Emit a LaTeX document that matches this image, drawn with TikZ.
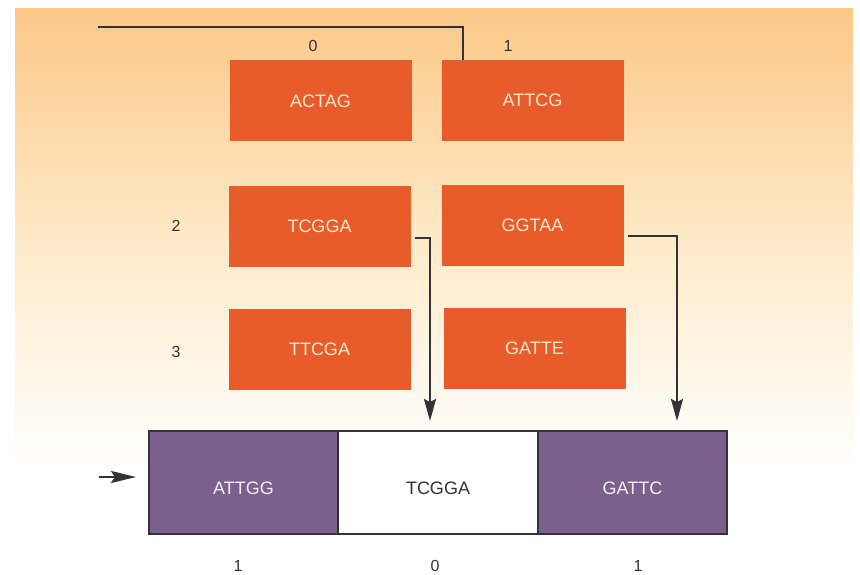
\documentclass[tikz,border=0pt]{standalone}
\usepackage{fontspec}
\setmainfont{Liberation Sans}
\usetikzlibrary{arrows.meta}
\definecolor{boxorange}{RGB}{232,92,44}
\definecolor{boxpurple}{RGB}{123,95,140}
\definecolor{cream}{RGB}{253,232,205}
\definecolor{bgtop}{RGB}{252,200,136}
\definecolor{bgmid}{RGB}{254,236,205}
\definecolor{ink}{RGB}{50,50,55}
\tikzset{
  gene/.style={rectangle, fill=boxorange, draw=none, minimum width=182pt, minimum height=81pt, inner sep=0pt,
    text=cream, font=\fontsize{18}{21}\selectfont},
  seg/.style={rectangle, draw=ink, line width=1.3pt, minimum height=103pt, inner sep=0pt,
    text height=23pt, text depth=0pt, font=\fontsize{18}{21}\selectfont},
  purpleseg/.style={seg, fill=boxpurple, text=white!92!boxpurple},
  whiteseg/.style={seg, fill=white, text=ink},
  numlabel/.style={text=ink, font=\fontsize{16}{19}\selectfont, inner sep=0pt},
  conn/.style={draw=ink, line width=2.2pt},
  arrowconn/.style={conn, -{Stealth[length=22pt,width=12pt,inset=3pt]}},
}
\begin{document}
\begin{tikzpicture}[x=1pt,y=-1pt]
\useasboundingbox (0,0) rectangle (860,575);
\fill[white] (0,0) rectangle (860,575);
\shade[top color=bgtop, bottom color=bgmid, draw=none] (15,9) rectangle (853,260);
\shade[top color=bgmid, bottom color=white, draw=none] (15,259.5) rectangle (853,470);

% gene boxes
\node[gene] (ACTAG) at (320.5,101) {ACTAG};
\node[gene] (ATTCG) at (532.5,100.5) {ATTCG};
\node[gene] (TCGGA) at (319.5,226.5) {TCGGA};
\node[gene] (GGTAA) at (532.5,225.5) {GGTAA};
\node[gene] (TTCGA) at (319.5,349) {TTCGA};
\node[gene] (GATTE) at (534.5,348.5) {GATTE};

% labels
\node[numlabel] (l0) at (313,46) {0};
\node[numlabel] (l1) at (508,46) {1};
\node[numlabel] (l2) at (176,226) {2};
\node[numlabel] (l3) at (176,352) {3};

% bottom bar
\node[purpleseg, minimum width=189pt] (s1) at (243.5,482.5) {ATTGG};
\node[whiteseg, minimum width=200pt] (s2) at (438,482.5) {TCGGA};
\node[purpleseg, minimum width=189pt] (s3) at (632.5,482.5) {GATTC};

\node[numlabel] (b1) at (238,566) {1};
\node[numlabel] (b2) at (435,566) {0};
\node[numlabel] (b3) at (638,566) {1};

% connectors
\coordinate (topstart) at (98,27);
\draw[conn] (topstart) -| ([xshift=22pt]ATTCG.north west);

\coordinate (tipA) at (430,421);
\coordinate (tipB) at (677,421);
\draw[arrowconn] ([xshift=4pt,yshift=-11.5pt]TCGGA.east) -| (tipA);
\draw[arrowconn] ([xshift=4pt,yshift=-10.5pt]GGTAA.east) -| (tipB);

\coordinate (inarrow) at (99,477);
\coordinate (inarrowend) at (136,477);
\draw[arrowconn, line width=2.6pt, -{Stealth[length=25pt,width=12pt,inset=4pt]}] (inarrow) -- (inarrowend);
\end{tikzpicture}
\end{document}
